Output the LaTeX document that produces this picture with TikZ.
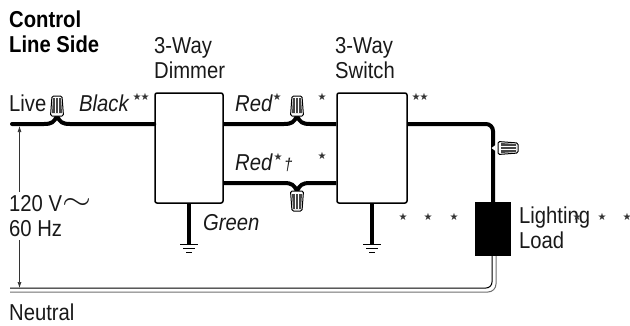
\documentclass[tikz,border=0pt]{standalone}
\usepackage{fontspec}
\setmainfont[FakeStretch=0.88]{Liberation Sans}
\newfontfamily\starfont{DejaVu Sans}
\usepackage{tikz}
\usetikzlibrary{arrows.meta, positioning, calc}
\definecolor{neutralgray}{RGB}{110,110,110}
\definecolor{nutgray}{RGB}{70,70,70}
\newcommand{\wirestar}{{\starfont\fontsize{10}{10}\selectfont ★}}
\tikzset{
  label/.style={inner sep=0pt, anchor=base west, font=\fontsize{23}{25}\selectfont, text=black!90},
  wirelabel/.style={label, font=\fontsize{23}{25}\selectfont\itshape},
  headlabel/.style={label, font=\fontsize{23}{25}\selectfont\bfseries, text=black},
  starlabel/.style={inner sep=0pt, text=black!80},
  devicebox/.style={draw, line width=1.5pt, rounded corners=2pt, minimum width=68pt, minimum height=110pt, inner sep=0pt},
  loadbox/.style={fill=black, minimum width=36pt, minimum height=54pt, inner sep=0pt},
  wire/.style={line width=4pt, line cap=round},
  thinwire/.style={line width=1pt, neutralgray},
  measure/.style={line width=0.6pt, black!80, -{Latex[length=6pt,width=4pt]}},
  pics/wirenut/.style={code={
    \draw[fill=white, line width=1pt, rounded corners=1.5pt] (-6.5,0) -- (-5,-20) -- (5,-20) -- (6.5,0) -- cycle;
    \fill[nutgray] (-5,-3) -- (-4,-18) -- (4,-18) -- (5,-3) -- cycle;
    \foreach \s in {-1.5,1.5} {\draw[white, line width=0.5pt] (\s,-3) -- (\s,-18);}
  }},
  pics/groundmark/.style={code={
    \draw[line width=1pt] (-9,0) -- (9,0);
    \draw[line width=1pt] (-6,4) -- (6,4);
    \draw[line width=1pt] (-3,8) -- (3,8);
  }}
}

\begin{document}
\begin{tikzpicture}[x=1pt, y=-1pt]
\useasboundingbox (0,0) rectangle (630,325);

% Devices
\node[devicebox] (dimmer) at (189,148) {};
\node[devicebox, minimum width=70pt] (switch) at (372,148) {};
\node[loadbox] (load) at (493,229) {};

% Free wire ends
\coordinate (liveend) at (12,124);
\coordinate (neutralleft) at (10,288);
\coordinate (neutralbot) at (10,292);

% Live and red wires
\draw[wire] (liveend) -- (44,124) .. controls (52,124) and (54,122) .. (57,116) .. controls (60,122) and (62,124) .. (70,124) -- (dimmer.west |- 0,124);
\draw[wire, line cap=butt] (dimmer.east |- 0,124) -- (284,124) .. controls (292,124) and (294,122) .. (297,116) .. controls (300,122) and (302,124) .. (310,124) -- (switch.west |- 0,124);
\draw[wire, line cap=butt] (dimmer.east |- 0,183) -- (284,183) .. controls (292,183) and (294,185) .. (297,191) .. controls (300,185) and (302,183) .. (310,183) -- (switch.west |- 0,183);
\draw[wire, line cap=butt, rounded corners=7pt] (switch.east |- 0,124) -- (load.north |- 0,124) -- (load.north);

% Neutral
\draw[thinwire, rounded corners=8pt] (neutralbot) -- (496,292) -- (496,256);
\draw[thinwire, black, rounded corners=6pt] (neutralleft) -- (492,288) -- (492,256);

% Wire nuts
\pic at (57,116) {wirenut};
\pic at (297,116) {wirenut};
\pic[yscale=-1] at (297,191) {wirenut};
\fill[white] (495.5,145) -- (491.5,148) -- (495.5,151) -- cycle;
\pic[rotate=-90] at (498,148) {wirenut};

% Grounds
\draw[wire, line cap=butt] (dimmer.south) -- ++(0,41) pic {groundmark};
\draw[wire, line cap=butt] (switch.south) -- ++(0,41) pic {groundmark};

% Voltage
\node[label] (volt) at (9,211) {120 V\raisebox{2pt}{\scalebox{1.5}[1.2]{$\sim$}}};
\node[label] (hertz) at (9,236) {60 Hz};
\coordinate (voltup) at (19.5,126);
\coordinate (voltdown) at (19.5,288);
\draw[measure] (volt.north -| voltup) ++(0,-3) -- (voltup);
\draw[measure] (hertz.south -| voltdown) ++(0,4) -- (voltdown);

% Labels
\node[headlabel] (control) at (9,27) {Control};
\node[headlabel] (lineside) at (9,52) {Line Side};
\node[label] (dimmertop) at (154,53) {3-Way};
\node[label] (dimmerlow) at (154,78) {Dimmer};
\node[label] (switchtop) at (335,53) {3-Way};
\node[label] (switchlow) at (335,78) {Switch};
\node[label] (live) at (9,111) {Live};
\node[wirelabel] (black) at (79,111) {Black};
\node[wirelabel] (redtop) at (235,111) {Red};
\node[wirelabel] (redlow) at (235,170) {Red};
\node[label, font=\fontsize{17}{17}\selectfont\itshape] (dagger) at (284,170) {†};
\node[wirelabel] (green) at (203,230) {Green};
\node[label] (lighting) at (519,223) {Lighting};
\node[label] (loadtext) at (519,248) {Load};
\node[label] (neutral) at (9,320) {Neutral};

% Stars
\foreach \x/\y in {137/97, 145/97, 277/97, 322/97, 278/157, 322/156, 416/97, 424/97, 403/217, 428/217, 454/217, 577/217, 602/217, 627/217} {
  \node[starlabel] (star-\x-\y) at (\x,\y) {\wirestar};
}

\end{tikzpicture}
\end{document}
